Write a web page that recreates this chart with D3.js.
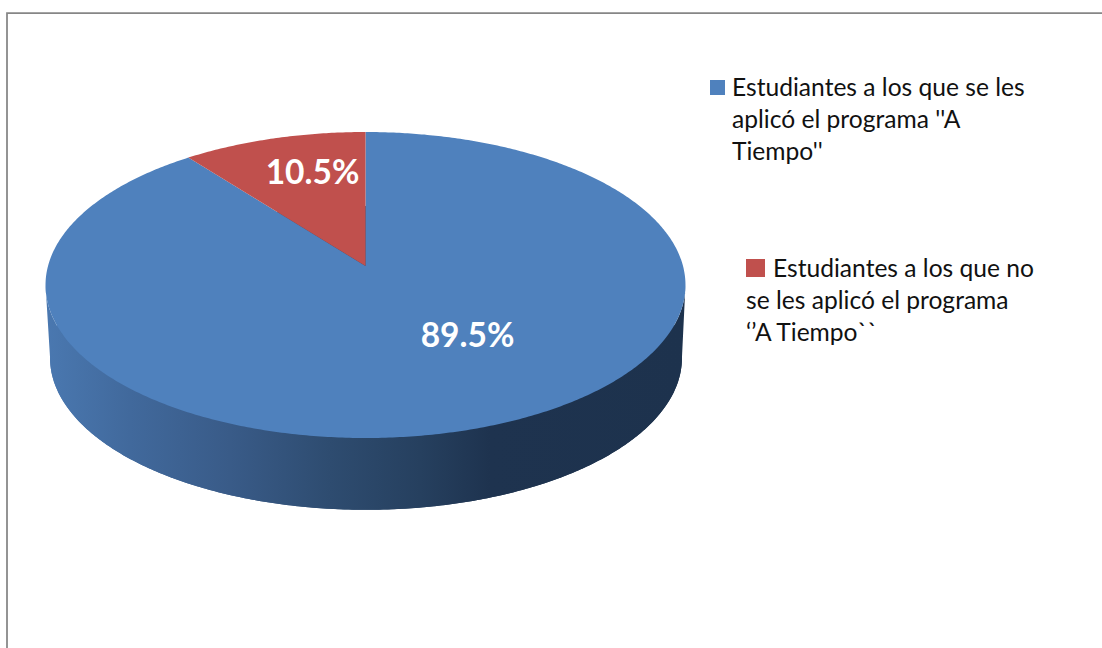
<!DOCTYPE html>
<html lang="es">
<head>
<meta charset="utf-8">
<title>Programa A Tiempo</title>
<script src="https://cdn.jsdelivr.net/npm/d3@7/dist/d3.min.js"></script>
<style>
  html, body { margin: 0; padding: 0; background: #fff; }
  svg { display: block; }
  text { font-family: Lato, "Open Sans", sans-serif; }
</style>
</head>
<body>
<svg id="chart" width="1102" height="648"></svg>
<script>
// Share of students, in pie order clockwise from twelve o'clock
const categories = ["Aplicado", "No aplicado"];
const values = [89.5, 10.5];
const valueLabels = ["89.5%", "10.5%"];
const sliceColors = ["#4f81bd", "#c0504d"];

const legendLines = [
  ["Estudiantes a los que se les", "aplicó el programa ''A", "Tiempo''"],
  ["Estudiantes a los que no", "se les aplicó el programa", "‘’A Tiempo``"]
];

// Horizontal shading of the pie's side wall
const wallStops = [
  { x: 46, color: "#4a78b0" },
  { x: 130, color: "#41699c" },
  { x: 230, color: "#395b88" },
  { x: 330, color: "#2e4c70" },
  { x: 420, color: "#26405f" },
  { x: 490, color: "#1e334f" },
  { x: 686, color: "#1d324d" }
];

const svg = d3.select("#chart");

// Perspective projection of a unit disc lying flat:
// far edge at angle 0, near edge at angle PI.
const topDisc = { cx: 365.5, k: 317.5, a: 117.6, b: 266, c: -0.1242 };
const baseDisc = { cx: 366, k: 313.5, a: 107.5, b: 339, c: -0.1242 };

function rimPoint(disc, angle) {
  const ux = Math.sin(angle), uy = -Math.cos(angle);
  const w = 1 + disc.c * uy;
  return [disc.cx + disc.k * ux / w, (disc.a * uy + disc.b) / w];
}

const line = d3.line();
const rimSamples = (from, to) => {
  const n = Math.max(2, Math.ceil(Math.abs(to - from) / 0.01));
  return d3.range(n + 1).map(i => from + (to - from) * i / n);
};

// Side wall gradient
const defs = svg.append("defs");
const xScale = d3.scaleLinear().domain([46, 686]).range([0, 1]);
const gradient = defs.append("linearGradient")
  .attr("id", "wall")
  .attr("gradientUnits", "userSpaceOnUse")
  .attr("x1", 46).attr("y1", 0).attr("x2", 686).attr("y2", 0);
gradient.selectAll("stop").data(wallStops).join("stop")
  .attr("offset", d => xScale(d.x))
  .attr("stop-color", d => d.color);

// Chart frame, open toward the right and bottom
svg.append("path")
  .attr("d", line([[1102, 13], [7, 13], [7, 648]]))
  .attr("fill", "none")
  .attr("stroke", "#868686")
  .attr("stroke-width", 1.75);

// Base disc and the band joining it to the top face
svg.append("path")
  .attr("d", line(rimSamples(0, 2 * Math.PI).map(t => rimPoint(baseDisc, t))) + "Z")
  .attr("fill", "url(#wall)");

// The band runs between the two silhouette angles, where the rim is widest
const silhouette = Math.acos(topDisc.c);
const front = rimSamples(silhouette, 2 * Math.PI - silhouette);
svg.append("path")
  .attr("d", line([
    ...front.map(t => rimPoint(topDisc, t)),
    ...front.slice().reverse().map(t => rimPoint(baseDisc, t))
  ]) + "Z")
  .attr("fill", "url(#wall)");

// Top face slices
const pie = d3.pie().sort(null).value(d => d);
const arcs = pie(values);

svg.append("g").selectAll("path").data(arcs).join("path")
  .attr("d", d => line([
    [topDisc.cx, topDisc.b],
    ...rimSamples(d.startAngle, d.endAngle).map(t => rimPoint(topDisc, t))
  ]) + "Z")
  .attr("fill", (d, i) => sliceColors[i]);

// Value labels
const labelAnchors = [[467.5, 347], [312.5, 184]];
svg.append("g").selectAll("text").data(valueLabels).join("text")
  .attr("x", (d, i) => labelAnchors[i][0])
  .attr("y", (d, i) => labelAnchors[i][1])
  .attr("text-anchor", "middle")
  .attr("font-size", 33.5)
  .attr("font-weight", 700)
  .attr("fill", "#fff")
  .text(d => d);

// Legend
const legendLayout = [
  { swatch: [710, 80, 15, 15], firstX: 732, restX: 732, y: 96, step: 32 },
  { swatch: [746, 259, 19, 18], firstX: 773, restX: 746, y: 277, step: 32 }
];
const legend = svg.append("g").selectAll("g").data(legendLines).join("g");
legend.append("rect")
  .attr("x", (d, i) => legendLayout[i].swatch[0])
  .attr("y", (d, i) => legendLayout[i].swatch[1])
  .attr("width", (d, i) => legendLayout[i].swatch[2])
  .attr("height", (d, i) => legendLayout[i].swatch[3])
  .attr("fill", (d, i) => sliceColors[i]);
legend.each(function (lines, i) {
  const l = legendLayout[i];
  d3.select(this).selectAll("text").data(lines).join("text")
    .attr("x", (d, j) => j === 0 ? l.firstX : l.restX)
    .attr("y", (d, j) => l.y + j * l.step)
    .attr("font-size", 24.6)
    .attr("fill", "#111")
    .text(d => d);
});
</script>
</body>
</html>
